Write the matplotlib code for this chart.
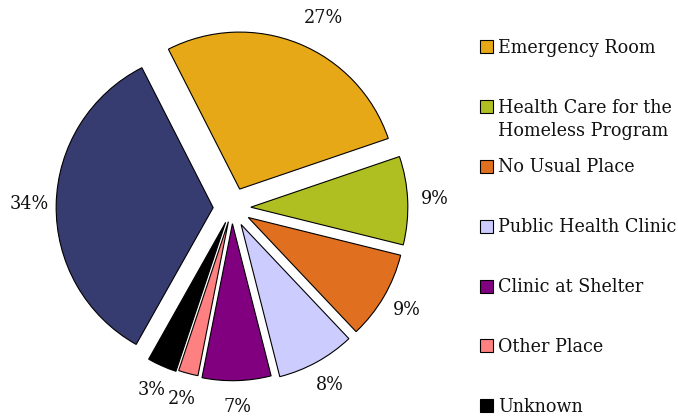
import numpy as np
import matplotlib
matplotlib.use("Agg")
import matplotlib.pyplot as plt
from matplotlib.patches import Rectangle
from matplotlib import font_manager

# Usual source of care, clockwise from the top
categories = ["Emergency Room", "Health Care for the\nHomeless Program", "No Usual Place",
              "Public Health Clinic", "Clinic at Shelter", "Other Place", "Unknown"]
values = [27, 9, 9, 8, 7, 2, 3, 34]
colors = ["#E6A817", "#AFBF22", "#E07020", "#CCCCFF", "#800080", "#FF8080", "#000000", "#363B70"]
explode = [0.13, 0.12, 0.12, 0.12, 0.10, 0.09, 0.10, 0.12]

plt.rcParams["font.family"] = ["DejaVu Serif"]
fp = font_manager.FontProperties(family="DejaVu Serif", stretch="condensed", size=14)

W, H = 678, 417
fig = plt.figure(figsize=(W / 100, H / 100), dpi=100)

R = 157.0          # pie radius in pixels
cx, cy = 232.0, 208.0  # pie centre, pixels from top-left
ax = fig.add_axes([0, 0, 464 / W, 1])
wedges, texts, autotexts = ax.pie(
    values, colors=colors, explode=explode, startangle=117, counterclock=False,
    autopct=lambda p: f"{p:.0f}%", pctdistance=1.17,
    wedgeprops=dict(edgecolor="black", linewidth=0.8))
for t in autotexts:
    t.set_fontproperties(fp)
    t.set_color("#111111")

# the large slice's label sits a little further out and towards its right edge
w0 = wedges[0]
ang = np.deg2rad((w0.theta1 + w0.theta2) / 2 - 4)
autotexts[0].set_position((w0.center[0] + 1.21 * np.cos(ang),
                           w0.center[1] + 1.21 * np.sin(ang)))

ax.set_xlim(-cx / R, (464 - cx) / R)
ax.set_ylim(-(H - cy) / R, cy / R)
ax.set_aspect("equal", adjustable="box")
ax.axis("off")

# Legend, one entry per row with the swatch on the first text line
base0, step, line_h = 52.7, 59.83, 23.5
for i, (name, col) in enumerate(zip(categories, colors)):
    yb = base0 + step * i
    fig.patches.append(Rectangle((480 / W, 1 - (yb + 0.5) / H), 13 / W, 13 / H,
                                 transform=fig.transFigure, facecolor=col,
                                 edgecolor="black", linewidth=0.8))
    for k, line in enumerate(name.split("\n")):
        fig.text(498 / W, 1 - (yb + k * line_h) / H, line, fontproperties=fp,
                 va="baseline", ha="left", color="#111111")

fig.savefig("out.png", dpi=100)
